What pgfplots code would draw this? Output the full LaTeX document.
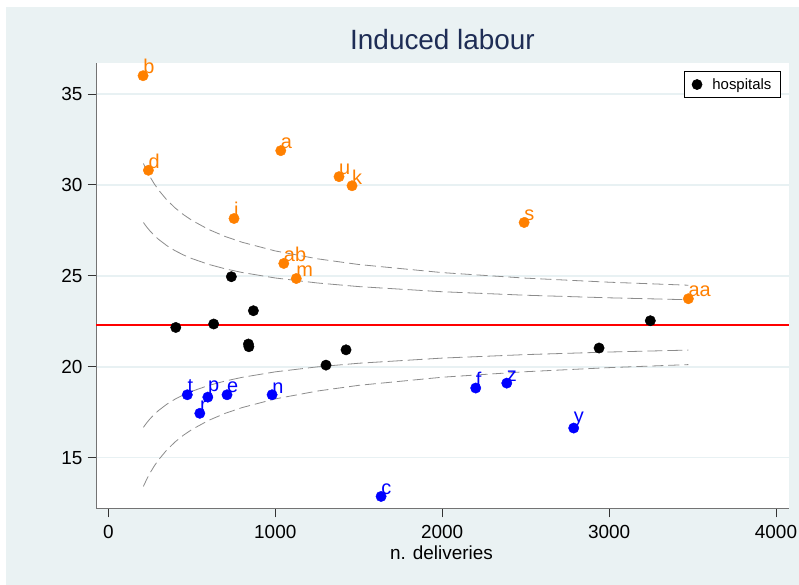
\documentclass[border=0pt]{standalone}
\usepackage{fontspec}
\setmainfont{Liberation Sans}
\usepackage{pgfplots}
\pgfplotsset{compat=1.18}
\usepackage{pgfplotstable}
\definecolor{bgc}{RGB}{234,242,243}
\definecolor{gridc}{RGB}{232,241,243}
\definecolor{sorange}{RGB}{255,128,0}
\definecolor{sblue}{RGB}{0,0,255}
\definecolor{titlec}{RGB}{30,45,85}
\definecolor{funnelc}{RGB}{140,140,140}

\pgfplotstableread{
n y label
208 36.00 b
240 30.80 d
1033 31.88 a
1382 30.45 u
1460 29.95 k
753 28.15 i
1051 25.68 ab
1126 24.85 m
2491 27.93 s
3475 23.74 aa
}\orangedata

\pgfplotstableread{
n y
404 22.16
631 22.35
737 24.95
839 21.25
842 21.10
869 23.08
1304 20.09
1424 20.93
2940 21.03
3247 22.53
}\blackdata

\pgfplotstableread{
n y label
473 18.46 t
548 17.44 r
596 18.33 p
711 18.46 e
981 18.46 n
1634 12.87 c
2201 18.83 f
2387 19.10 z
2788 16.63 y
}\bluedata

\pgfplotstableread{
n uo ui li lo
210 31.176 27.930 16.670 13.424
230 30.781 27.680 16.920 13.819
250 30.435 27.460 17.140 14.165
275 30.057 27.220 17.380 14.543
300 29.726 27.010 17.590 14.874
350 29.175 26.661 17.939 15.425
400 28.731 26.379 18.221 15.869
450 28.363 26.146 18.454 16.237
500 28.052 25.949 18.651 16.548
600 27.551 25.631 18.969 17.049
700 27.161 25.384 19.216 17.439
800 26.848 25.185 19.415 17.752
1000 26.367 24.880 19.720 18.233
1250 25.938 24.608 19.992 18.662
1500 25.621 24.407 20.193 18.979
2000 25.176 24.124 20.476 19.424
2500 24.872 23.932 20.668 19.728
3000 24.648 23.790 20.810 19.952
3475 24.482 23.684 20.916 20.118
}\funneldata

\begin{document}
\begin{tikzpicture}[x=1bp,y=1bp]
\fill[white] (0,0) rectangle (799,585);
\fill[bgc] (6,0) rectangle (799,578);
\begin{axis}[
  at={(96bp,76bp)}, anchor=south west,
  scale only axis, width=693bp, height=446bp,
  xmin=-74, xmax=4078, ymin=12.18, ymax=36.70,
  axis x line*=bottom, axis y line*=left,
  axis line style={-, black!55, line width=1bp},
  axis background/.style={fill=white},
  xtick={0,1000,2000,3000,4000},
  ytick={15,20,25,30,35},
  /pgf/number format/assume math mode=true,
  /pgf/number format/1000 sep={},
  tick align=outside,
  major tick length=8.5bp,
  tick style={black!80, line width=0.8bp},
  ymajorgrids,
  grid style={gridc, line width=1.5bp},
  ticklabel style={font=\fontsize{19}{21}\selectfont, inner sep=0pt},
  xticklabel style={anchor=north, yshift=-8bp},
  yticklabel style={anchor=east, xshift=-4.8bp},
  title={Induced labour},
  title style={at={(axis description cs:0.5,1)}, anchor=base, yshift=8bp, inner sep=0pt, font=\fontsize{28}{30}\selectfont, text=titlec},
  xlabel={n. deliveries},
  xlabel style={at={(axis description cs:0.4985,0)}, anchor=base, yshift=-51bp, inner sep=0pt, font=\fontsize{19}{21}\selectfont},
  legend style={at={(0.988,0.982)}, anchor=north east, draw=black, fill=white, line width=0.7bp,
    font=\fontsize{15}{17}\selectfont, inner xsep=7bp, inner ysep=5bp,
    /tikz/every odd column/.append style={column sep=8bp}},
  legend image code/.code={\fill[black] (0bp,0bp) circle (5bp);},
  clip=false,
]
\addplot[red, line width=1.3bp, forget plot] coordinates {(-74,22.3) (4078,22.3)};
\addplot[funnelc, line width=0.8bp, dash pattern=on 11bp off 5bp, forget plot] table[x=n,y=uo] {\funneldata};
\addplot[funnelc, line width=0.8bp, dash pattern=on 15bp off 5bp, forget plot] table[x=n,y=ui] {\funneldata};
\addplot[funnelc, line width=0.8bp, dash pattern=on 15bp off 5bp, forget plot] table[x=n,y=li] {\funneldata};
\addplot[funnelc, line width=0.8bp, dash pattern=on 11bp off 5bp, forget plot] table[x=n,y=lo] {\funneldata};
\addplot[only marks, mark=*, mark size=5.2bp, mark options={draw=black, fill=black}] table[x=n,y=y] {\blackdata};
\addlegendentry{hospitals}
\addplot[only marks, mark=*, mark size=5.2bp, mark options={draw=sorange, fill=sorange},
  nodes near coords, point meta=explicit symbolic,
  every node near coord/.append style={anchor=south west, inner sep=0pt, yshift=1.5bp, font=\fontsize{20}{21}\selectfont, text=sorange},
  forget plot] table[x=n,y=y,meta=label] {\orangedata};
\addplot[only marks, mark=*, mark size=5.2bp, mark options={draw=sblue, fill=sblue},
  nodes near coords, point meta=explicit symbolic,
  every node near coord/.append style={anchor=south west, inner sep=0pt, yshift=1.5bp, font=\fontsize{20}{21}\selectfont, text=sblue},
  forget plot] table[x=n,y=y,meta=label] {\bluedata};
\end{axis}
\end{tikzpicture}
\end{document}
